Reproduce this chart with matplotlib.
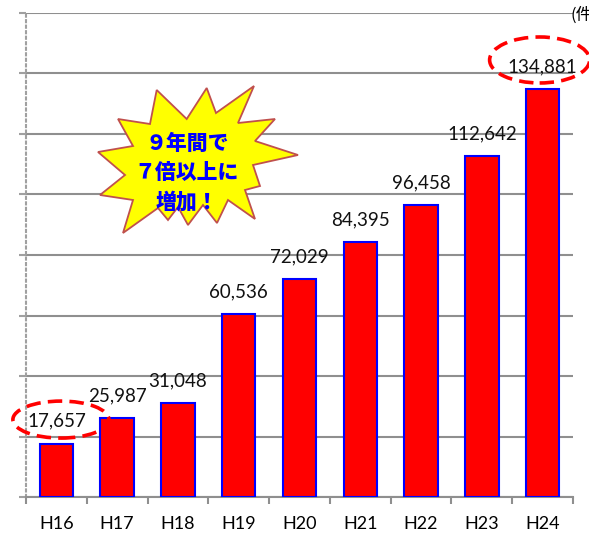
import matplotlib

matplotlib.use("Agg")

import matplotlib.pyplot as plt
from matplotlib.patches import Ellipse, Polygon
from matplotlib.transforms import Affine2D, ScaledTranslation

years = ["H16", "H17", "H18", "H19", "H20", "H21", "H22", "H23", "H24"]
cases = [17657, 25987, 31048, 60536, 72029, 84395, 96458, 112642, 134881]
y_ticks = [0, 20000, 40000, 60000, 80000, 100000, 120000, 140000, 160000]
unit_label = "(件)"
burst_lines = ["９年間で", "７倍以上に", "増加！"]

W, H = 589, 534
GRID = "#8f8f8f"

plt.rcParams["font.family"] = ["Lato", "DejaVu Sans"]

fig = plt.figure(figsize=(W / 100, H / 100), dpi=100)
ax = fig.add_axes([26 / W, 1 - 497 / H, (573 - 26) / W, (497 - 13) / H])

x = list(range(len(years)))
ax.bar(x, cases, width=0.55, color="#ff0000", edgecolor="#0000ff", linewidth=1.5, zorder=3)

ax.set_xlim(-0.5, len(years) - 0.5)
ax.set_ylim(y_ticks[0], y_ticks[-1])
ax.set_yticks(y_ticks)
ax.set_yticklabels([])
ax.yaxis.grid(True, color=GRID, linewidth=1.5, zorder=0)
ax.set_axisbelow(True)

ax.set_xticks(x)
ax.set_xticklabels(years, fontsize=13)
ax.set_xticks([i - 0.5 for i in range(len(years) + 1)], minor=True)
ax.tick_params(axis="x", which="major", length=0, pad=14)
ax.tick_params(axis="x", which="minor", length=5, width=1.5, color=GRID)
ax.tick_params(axis="y", length=5, width=1.5, color="#a0a0a0")

for side in ["top", "right"]:
    ax.spines[side].set_visible(False)
ax.spines["bottom"].set_color(GRID)
ax.spines["bottom"].set_linewidth(1.5)
ax.spines["left"].set_color("#a0a0a0")
ax.spines["left"].set_linewidth(1.5)
ax.spines["left"].set_linestyle(":")

for xi, v in zip(x, cases):
    ax.annotate(f"{v:,}", (xi, v), xytext=(0, 16), textcoords="offset points",
                ha="center", va="center", fontsize=13.5, color="#111111", zorder=4)

# dashed ellipses around first and last value labels (offsets in pixels from bar top)
for idx, dx, dy, w, h in [(0, 4.5, 24, 96, 37), (len(cases) - 1, -3, 29, 100, 46)]:
    trans = fig.dpi_scale_trans + ScaledTranslation(x[idx], cases[idx], ax.transData)
    ell = Ellipse((dx / 100, dy / 100), w / 100, h / 100, transform=trans, fill=False,
                  edgecolor="#ff0000", linewidth=2.6, linestyle=(0, (4, 2)), clip_on=False, zorder=5)
    fig.add_artist(ell)

fig.text(571 / W, 1 - 15 / H, unit_label, fontsize=12, ha="left", va="center",
         family=["Noto Sans CJK JP", "DejaVu Sans"])

# starburst callout, outline given in figure pixels
burst = [
    (156.7, 90), (186.7, 119), (206.7, 88), (216, 113), (254, 86), (238, 123),
    (275, 119), (255, 141), (298, 155), (253, 165), (260, 186), (245, 190),
    (255, 219), (228, 200), (217, 223), (203, 205), (188, 225), (178, 207),
    (168, 220), (158, 208), (123, 233), (133, 200), (100, 195), (125, 175),
    (98, 152), (133, 146), (118, 119), (150, 124),
]
px = Affine2D().scale(1 / W, -1 / H).translate(0, 1) + fig.transFigure
fig.add_artist(Polygon(burst, closed=True, facecolor="#ffff00", edgecolor="#c0504d",
                       linewidth=1.3, transform=px, zorder=6))
for i, line in enumerate(burst_lines):
    fig.text(187 / W, 1 - (144 + 29 * i) / H, line, fontsize=15, fontweight="heavy",
             color="#0000ff", ha="center", va="center", zorder=7,
             family=["Noto Sans CJK JP", "DejaVu Sans"])

fig.savefig("out.png", dpi=100)
